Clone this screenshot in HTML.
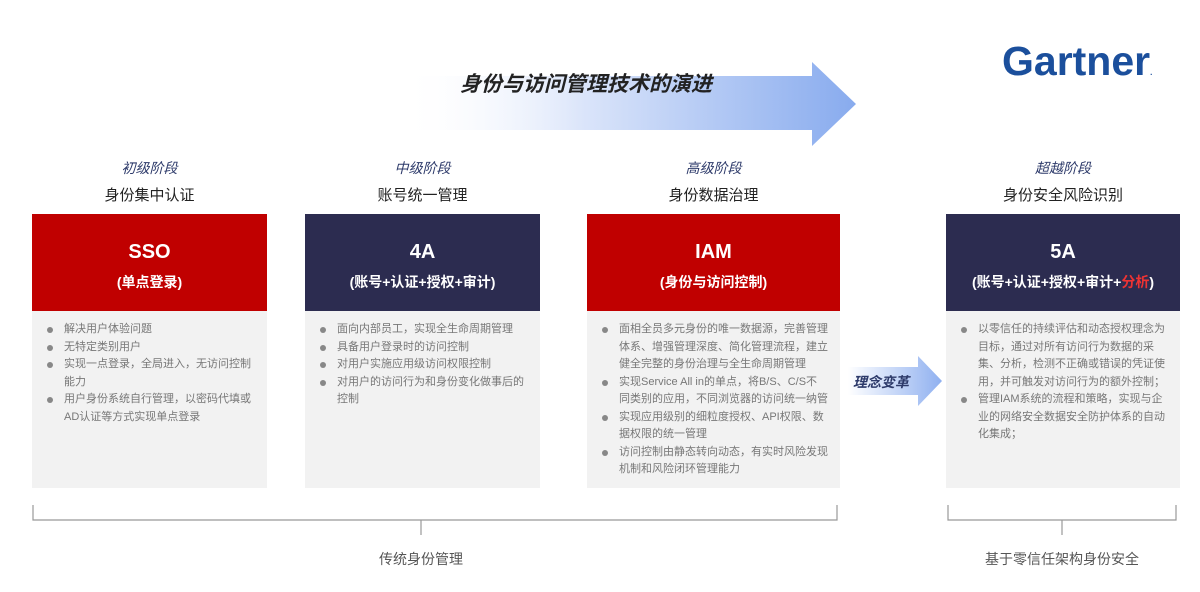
<!DOCTYPE html>
<html><head><meta charset="utf-8"><style>
*{margin:0;padding:0;box-sizing:border-box}
body{width:1200px;height:592px;background:#fff;position:relative;overflow:hidden;font-family:"Liberation Sans","Noto Sans CJK SC",sans-serif}
.a{position:absolute}
.stage{position:absolute;text-align:center;font-size:14px;color:#2d3a6a;font-style:italic}
.sub{position:absolute;text-align:center;font-size:15px;color:#222}
.hd{position:absolute;top:214px;height:97px;color:#fff;text-align:center;font-weight:bold}
.hd .t{font-size:20px;margin-top:26px;line-height:24px}
.hd .s{font-size:14px;margin-top:8px}
.bd{position:absolute;top:311px;height:177px;background:#f2f2f2;padding:10px 12px 0 12px}
.bd ul{list-style:none;font-size:11px;color:#777;line-height:17.5px}
.bd li{position:relative;padding-left:20px}
.bd li:before{content:"";position:absolute;left:3px;top:6px;width:6px;height:6px;border-radius:50%;background:#888}
.red{background:#c00000}.navy{background:#2c2c50}
.lbl{position:absolute;font-size:14px;color:#555;text-align:center}
</style></head><body>
<svg class="a" style="left:0;top:0" width="1200" height="592">
<defs>
<linearGradient id="g" x1="0" x2="1"><stop offset="0" stop-color="#fff" stop-opacity="0"/><stop offset="0.4" stop-color="#dbe5fa"/><stop offset="1" stop-color="#88abee"/></linearGradient>
<linearGradient id="g2" x1="0" x2="1"><stop offset="0" stop-color="#fff"/><stop offset="1" stop-color="#8fb0f0"/></linearGradient>
</defs>
<polygon points="400,76 812,76 812,62 856,104 812,146 812,130 400,130" fill="url(#g)"/>
<polygon points="848,367 918,367 918,356 942,381 918,406 918,395 848,395" fill="url(#g2)"/>
<g stroke="#999" stroke-width="1.2" fill="none">
<path d="M33,505 V520 H837 V505 M421,520 V535"/>
<path d="M948,505 V520 H1176 V505 M1062,520 V535"/>
</g>
</svg>
<div class="a" style="left:460px;top:68px;font-size:21px;font-weight:bold;font-style:italic;color:#222">身份与访问管理技术的演进</div>
<div class="a" style="left:1002px;top:38px;font-size:41px;font-weight:bold;color:#1b4f9c;letter-spacing:0">Gartner<span style="font-size:8px">.</span></div>
<div class="a" style="left:853px;top:372px;font-size:14px;font-weight:bold;font-style:italic;color:#2d3a6a">理念变革</div>

<div class="stage" style="left:32px;width:235px;top:158px">初级阶段</div>
<div class="sub" style="left:32px;width:235px;top:184px">身份集中认证</div>
<div class="stage" style="left:305px;width:235px;top:158px">中级阶段</div>
<div class="sub" style="left:305px;width:235px;top:184px">账号统一管理</div>
<div class="stage" style="left:587px;width:253px;top:158px">高级阶段</div>
<div class="sub" style="left:587px;width:253px;top:184px">身份数据治理</div>
<div class="stage" style="left:946px;width:234px;top:158px">超越阶段</div>
<div class="sub" style="left:946px;width:234px;top:184px">身份安全风险识别</div>

<div class="hd red" style="left:32px;width:235px"><div class="t">SSO</div><div class="s">(单点登录)</div></div>
<div class="hd navy" style="left:305px;width:235px"><div class="t">4A</div><div class="s">(账号+认证+授权+审计)</div></div>
<div class="hd red" style="left:587px;width:253px"><div class="t">IAM</div><div class="s">(身份与访问控制)</div></div>
<div class="hd navy" style="left:946px;width:234px"><div class="t">5A</div><div class="s">(账号+认证+授权+审计+<span style="color:#e33">分析</span>)</div></div>

<div class="bd" style="left:32px;width:235px"><ul>
<li>解决用户体验问题</li><li>无特定类别用户</li><li>实现一点登录，全局进入，无访问控制能力</li><li>用户身份系统自行管理，以密码代填或AD认证等方式实现单点登录</li></ul></div>
<div class="bd" style="left:305px;width:235px"><ul>
<li>面向内部员工，实现全生命周期管理</li><li>具备用户登录时的访问控制</li><li>对用户实施应用级访问权限控制</li><li>对用户的访问行为和身份变化做事后的控制</li></ul></div>
<div class="bd" style="left:587px;width:253px"><ul>
<li>面相全员多元身份的唯一数据源，完善管理体系、增强管理深度、简化管理流程，建立健全完整的身份治理与全生命周期管理</li><li>实现Service All in的单点，将B/S、C/S不同类别的应用，不同浏览器的访问统一纳管</li><li>实现应用级别的细粒度授权、API权限、数据权限的统一管理</li><li>访问控制由静态转向动态，有实时风险发现机制和风险闭环管理能力</li></ul></div>
<div class="bd" style="left:946px;width:234px"><ul>
<li>以零信任的持续评估和动态授权理念为目标，通过对所有访问行为数据的采集、分析，检测不正确或错误的凭证使用，并可触发对访问行为的额外控制；</li><li>管理IAM系统的流程和策略，实现与企业的网络安全数据安全防护体系的自动化集成；</li></ul></div>

<div class="lbl" style="left:321px;width:200px;top:549px">传统身份管理</div>
<div class="lbl" style="left:962px;width:200px;top:549px">基于零信任架构身份安全</div>
</body></html>
